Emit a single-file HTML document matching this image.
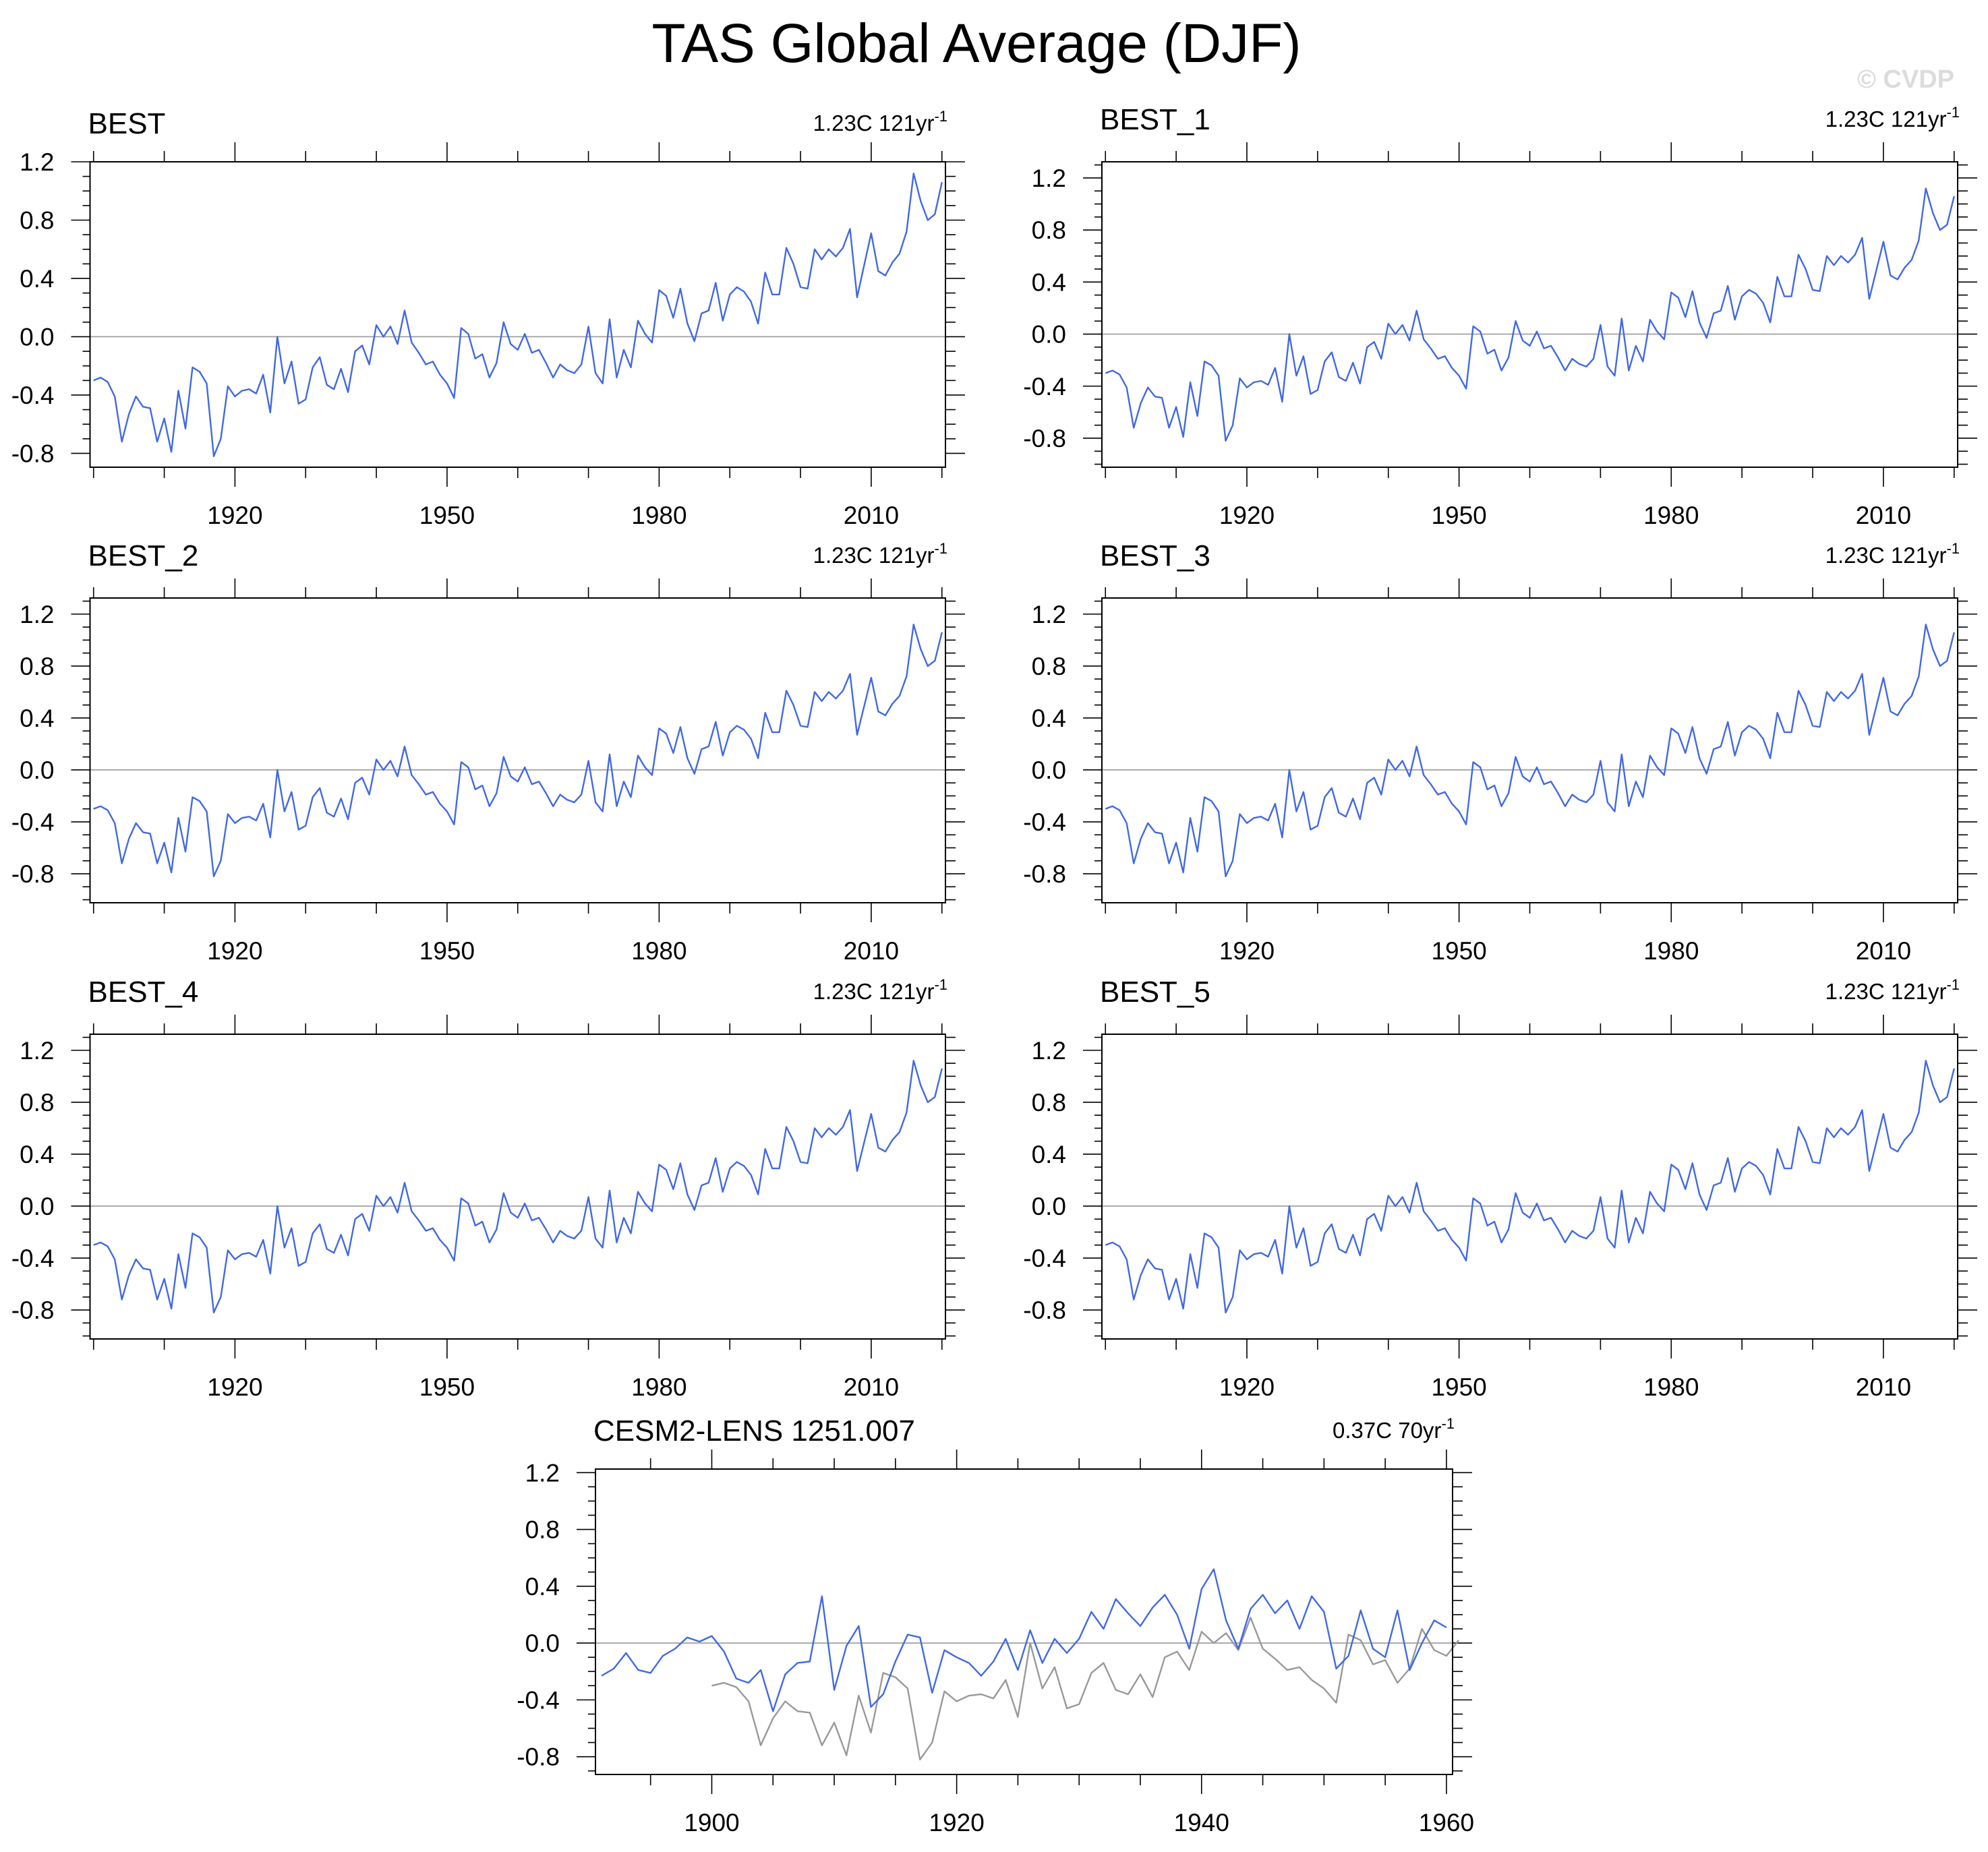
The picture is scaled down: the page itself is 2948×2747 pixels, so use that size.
<!DOCTYPE html>
<html><head><meta charset="utf-8"><title>TAS Global Average (DJF)</title>
<style>html,body{margin:0;padding:0;background:#fff;}svg{display:block;font-family:"Liberation Sans",sans-serif;}</style>
</head><body>
<svg id="chart" width="2948" height="2747" viewBox="0 0 2948 2747" xmlns="http://www.w3.org/2000/svg">
<rect width="2948" height="2747" fill="#fff"/>
<text x="1448" y="92" font-size="82" text-anchor="middle" fill="#000">TAS Global Average (DJF)</text>
<text x="2898" y="130" font-size="38" font-weight="bold" text-anchor="end" fill="#dcdcdc">© CVDP</text>
</svg>
<script>
// BEST observed DJF anomalies, 1900-2020
const bestStartYear = 1900;
const bestValues = [-0.30,-0.28,-0.31,-0.41,-0.72,-0.53,-0.41,-0.48,-0.49,-0.72,
-0.56,-0.79,-0.37,-0.63,-0.21,-0.24,-0.32,-0.82,-0.70,-0.34,
-0.41,-0.37,-0.36,-0.39,-0.26,-0.52,0.00,-0.32,-0.17,-0.46,
-0.43,-0.21,-0.14,-0.33,-0.36,-0.22,-0.38,-0.10,-0.06,-0.19,
0.08,0.00,0.07,-0.05,0.18,-0.04,-0.11,-0.19,-0.17,-0.26,
-0.32,-0.42,0.06,0.02,-0.15,-0.12,-0.28,-0.18,0.10,-0.05,
-0.09,0.02,-0.11,-0.09,-0.18,-0.28,-0.19,-0.23,-0.25,-0.19,
0.07,-0.25,-0.32,0.12,-0.28,-0.09,-0.21,0.11,0.02,-0.04,
0.32,0.28,0.13,0.33,0.09,-0.03,0.16,0.18,0.37,0.11,
0.29,0.34,0.31,0.24,0.09,0.44,0.29,0.29,0.61,0.50,
0.34,0.33,0.60,0.53,0.60,0.55,0.61,0.74,0.27,0.49,
0.71,0.45,0.42,0.51,0.57,0.72,1.12,0.93,0.80,0.84,1.06];
// CESM2-LENS 1251.007, 1891-1960
const cesmStartYear = 1891;
const cesmValues = [-0.23,-0.18,-0.07,-0.19,-0.21,-0.09,-0.04,0.04,0.01,0.05,
-0.06,-0.25,-0.28,-0.19,-0.48,-0.22,-0.14,-0.13,0.33,-0.33,
-0.02,0.12,-0.45,-0.36,-0.13,0.06,0.04,-0.35,-0.05,-0.10,
-0.14,-0.23,-0.13,0.03,-0.19,0.09,-0.14,0.03,-0.07,0.03,
0.22,0.10,0.31,0.21,0.12,0.25,0.34,0.20,-0.04,0.38,
0.52,0.16,-0.04,0.24,0.34,0.21,0.30,0.10,0.33,0.22,
-0.18,-0.09,0.23,-0.04,-0.10,0.23,-0.19,0.00,0.16,0.11];
const yTickLabels = ["-0.8","-0.4","0.0","0.4","0.8","1.2"];
const bestXTickLabels = ["1920","1950","1980","2010"];
const cesmXTickLabels = ["1900","1920","1940","1960"];
const panelTitles = ["BEST","BEST_1","BEST_2","BEST_3","BEST_4","BEST_5"];
const bestTrend = "1.23C 121yr";
const cesmTrend = "0.37C 70yr";

const NS = "http://www.w3.org/2000/svg";
const svg = document.getElementById('chart');
function mk(tag, attrs, parent){
  const e = document.createElementNS(NS, tag);
  for (const k in attrs) e.setAttribute(k, attrs[k]);
  (parent||svg).appendChild(e);
  return e;
}
function drawPanel(p){
  const g = mk('g', {});
  
  
  const xs = v => p.x0 + (v - p.xmin) / (p.xmax - p.xmin) * (p.x1 - p.x0);
  const ys = v => p.y1 - (v - p.ymin) / (p.ymax - p.ymin) * (p.y1 - p.y0);
  for (let i = Math.ceil(p.ymin*10); i <= Math.floor(p.ymax*10); i++){
    const v = i/10, y = ys(v), major = (i % 4 === 0);
    const t1 = mk('line', {x1:p.x0-(major?28:11), x2:p.x0, y1:y, y2:y, stroke:'#000', 'stroke-width':1.6}, g);
    
    
    const t2 = mk('line', {x1:p.x1, x2:p.x1+(major?29:15), y1:y, y2:y, stroke:'#000', 'stroke-width':1.6}, g);
    
    
  }
  yTickLabels.forEach(lbl => {
    const t = mk('text', {x:p.x0-53, y:ys(parseFloat(lbl))+13, 'font-size':37, 'text-anchor':'end', fill:'#000'}, g);
    t.textContent = lbl;
    
    
  });
  for (let yr = p.minorStart; yr <= p.xmax; yr += p.minorStep){
    const x = xs(yr), major = ((yr - p.majorStart) % p.majorStep === 0) && yr >= p.majorStart;
    const len = major ? 29 : 16;
    const a = mk('line', {x1:x, x2:x, y1:p.y0-len, y2:p.y0, stroke:'#000', 'stroke-width':1.6}, g);
    
    
    const b = mk('line', {x1:x, x2:x, y1:p.y1, y2:p.y1+len, stroke:'#000', 'stroke-width':1.6}, g);
    
    
  }
  p.xLabels.forEach(lbl => {
    const t = mk('text', {x:xs(parseFloat(lbl)), y:p.y1+84, 'font-size':37, 'text-anchor':'middle', fill:'#000'}, g);
    t.textContent = lbl;
    
    
  });
  const z = mk('line', {x1:p.x0, x2:p.x1, y1:ys(0), y2:ys(0), stroke:'#9a9a9a', 'stroke-width':1.6}, g);
  
  
  p.series.forEach(s => {
    const pts = s.values.map((v,i) => xs(s.start+i).toFixed(1)+','+ys(v).toFixed(1)).join(' ');
    const l = mk('polyline', {points:pts, fill:'none', stroke:s.color, 'stroke-width':2.4, 'stroke-linejoin':'round'}, g);
    
    
  });
  const f = mk('rect', {x:p.x0, y:p.y0, width:p.x1-p.x0, height:p.y1-p.y0, fill:'none', stroke:'#000', 'stroke-width':2}, g);
  
  
  const tt = mk('text', {x:p.x0-3, y:p.titleY, 'font-size':44, fill:'#000'}, g);
  tt.textContent = p.title;
  
  
  const st = mk('text', {x:p.x1+3, y:p.titleY-4, 'font-size':33, 'text-anchor':'end', fill:'#000'}, g);
  
  
  st.appendChild(document.createTextNode(p.trend));
  const sup = mk('tspan', {'font-size':22, dy:-14}, st);
  sup.textContent = '-1';
}
const colX = [[133.5,1402],[1634,2903]];
const rowY = [[240,693],[887,1339],[1534,1986]];
panelTitles.forEach((t, i) => {
  const c = i % 2, r = Math.floor(i / 2);
  const special = (i === 0);
  drawPanel({
    name: 'panel-' + t.toLowerCase().replace('_','-'),
    x0: colX[c][0], x1: colX[c][1], y0: rowY[r][0], y1: rowY[r][1],
    xmin: 1899.5, xmax: 2020.5,
    ymin: special ? -0.895 : -1.023, ymax: special ? 1.2 : 1.324,
    minorStart: 1900, minorStep: 10, majorStart: 1920, majorStep: 30,
    xLabels: bestXTickLabels, title: t, titleY: rowY[r][0] - (special ? 42 : 48), trend: bestTrend,
    series: [{name:'best-line', start:bestStartYear, values:bestValues, color:'#4169e1'}]
  });
});
drawPanel({
  name: 'panel-cesm2-lens',
  x0: 883, x1: 2154, y0: 2179, y1: 2632,
  xmin: 1890.5, xmax: 1960.5,
  ymin: -0.925, ymax: 1.225,
  minorStart: 1895, minorStep: 5, majorStart: 1900, majorStep: 20,
  xLabels: cesmXTickLabels, title: 'CESM2-LENS 1251.007', titleY: 2137, trend: cesmTrend,
  series: [
    {name:'best-reference-line', start:bestStartYear, values:bestValues.slice(0,62), color:'#999999'},
    {name:'cesm-line', start:cesmStartYear, values:cesmValues, color:'#4169e1'}
  ]
});
</script>
</body></html>
